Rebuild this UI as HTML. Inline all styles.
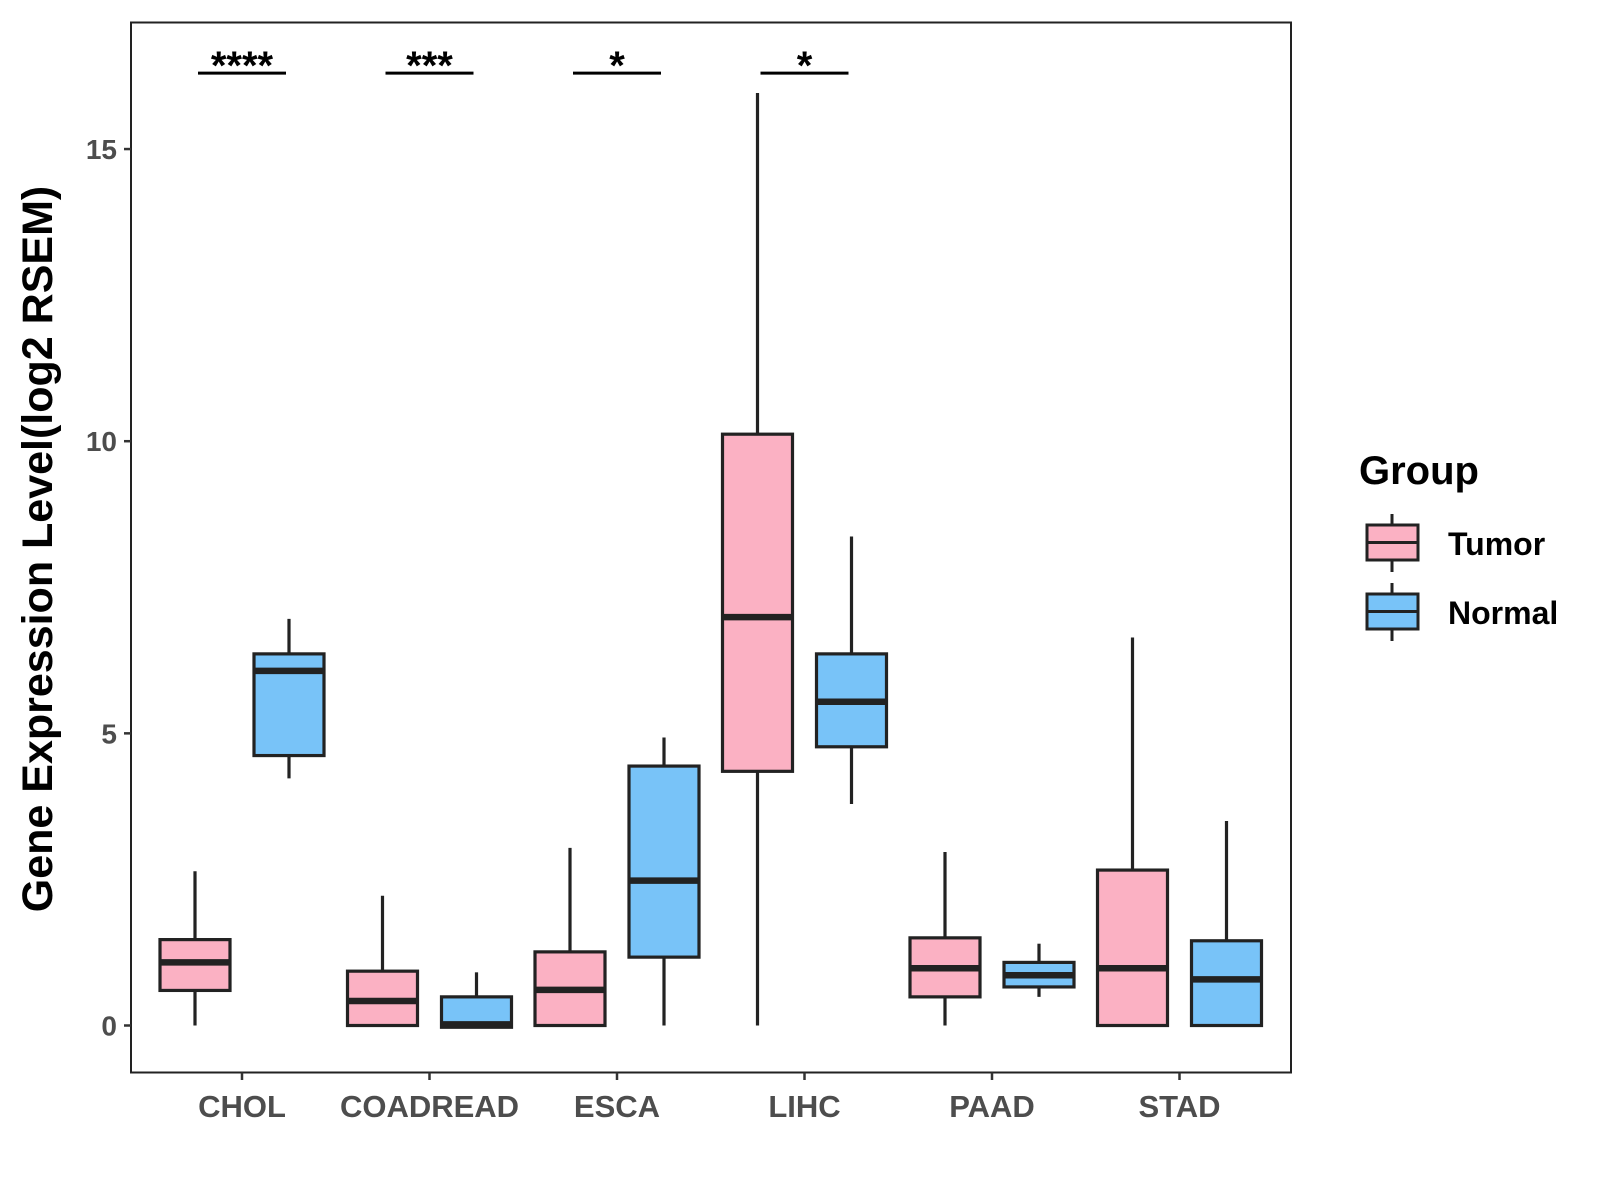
<!DOCTYPE html>
<html><head><meta charset="utf-8"><style>body{margin:0;background:#fff}svg{display:block;font-family:"Liberation Sans",sans-serif}</style></head>
<body>
<svg id="chart" width="1600" height="1200" viewBox="0 0 1600 1200" xmlns="http://www.w3.org/2000/svg">
<rect x="131" y="22.5" width="1160" height="1050" fill="#fff" stroke="#222" stroke-width="2"/>
<g id="marks"></g>
<text x="0" y="0" transform="translate(52,549) rotate(-90)" text-anchor="middle" font-size="43" font-weight="bold" fill="#000">Gene Expression Level(log2 RSEM)</text>
<g>
<text x="1359" y="484" font-size="40" font-weight="bold" fill="#000">Group</text>
<g>
<line x1="1392" y1="514" x2="1392" y2="572" stroke="#222" stroke-width="3"/>
<rect x="1367" y="525" width="51" height="35" fill="#FBB1C3" stroke="#222" stroke-width="3"/>
<line x1="1367" y1="542.5" x2="1418" y2="542.5" stroke="#222" stroke-width="3"/>
<text x="1448" y="555" font-size="32" font-weight="bold" fill="#000">Tumor</text></g>
<g>
<line x1="1392" y1="583" x2="1392" y2="641" stroke="#222" stroke-width="3"/>
<rect x="1367" y="594" width="51" height="35" fill="#78C3F8" stroke="#222" stroke-width="3"/>
<line x1="1367" y1="611.5" x2="1418" y2="611.5" stroke="#222" stroke-width="3"/>
<text x="1448" y="624" font-size="32" font-weight="bold" fill="#000">Normal</text></g>
</g>
</svg>
<script>
const categories = ["CHOL","COADREAD","ESCA","LIHC","PAAD","STAD"];
// [low, q1, median, q3, high]
const tumorStats = [[0,0.6,1.08,1.47,2.64],[0,0,0.42,0.93,2.22],[0,0,0.61,1.26,3.04],[0,4.35,6.99,10.12,15.96],[0,0.49,0.98,1.5,2.97],[0,0,0.98,2.66,6.64]];
const normalStats = [[4.23,4.62,6.07,6.36,6.96],[-0.03,-0.03,0.02,0.49,0.91],[0,1.17,2.48,4.44,4.93],[3.79,4.77,5.54,6.36,8.37],[0.49,0.66,0.86,1.08,1.4],[0,0,0.79,1.45,3.5]];
const yTicks = [0,5,10,15];
const sigLabels = ["****","***","*","*","",""];
const sigLevel = 16.3;

const NS="http://www.w3.org/2000/svg";
const g=document.getElementById('marks');
const y=v=>1025.5-v*58.43;
const x=i=>242+i*187.5;
function mk(t,a,p){const e=document.createElementNS(NS,t);for(const k in a)e.setAttribute(k,a[k]);(p||g).appendChild(e);return e;}
yTicks.forEach(v=>{
  const t=mk('line',{x1:124,x2:131,y1:y(v),y2:y(v),stroke:'#333','stroke-width':2.5});
  
  
  const l=mk('text',{x:117,y:y(v)+10,'text-anchor':'end','font-size':28,'font-weight':'bold',fill:'#4d4d4d'});
  l.textContent=v;
  
  
});
categories.forEach((c,i)=>{
  const t=mk('line',{x1:x(i),x2:x(i),y1:1072.5,y2:1080,stroke:'#333','stroke-width':2.5});
  
  
  const l=mk('text',{x:x(i),y:1117,'text-anchor':'middle','font-size':31,'font-weight':'bold',fill:'#4d4d4d'});
  l.textContent=c;
  
  
  [[tumorStats[i],-47,'#FBB1C3','tumor'],[normalStats[i],47,'#78C3F8','normal']].forEach(([s,off,col,nm])=>{
    const cx=x(i)+off;
    const b=mk('g',{});
    
    
    mk('line',{x1:cx,x2:cx,y1:y(s[0]),y2:y(s[4]),stroke:'#222','stroke-width':3.2},b);
    mk('rect',{x:cx-35,y:y(s[3]),width:70,height:Math.max(1,y(s[1])-y(s[3])),fill:col,stroke:'#222','stroke-width':3.2},b);
    mk('line',{x1:cx-35,x2:cx+35,y1:y(s[2]),y2:y(s[2]),stroke:'#222','stroke-width':6.5},b);
  });
  if(sigLabels[i]){
    const s=mk('line',{x1:x(i)-44,x2:x(i)+44,y1:y(sigLevel),y2:y(sigLevel),stroke:'#000','stroke-width':3});
    
    
    const tl=mk('text',{x:x(i),y:y(sigLevel)+6,'text-anchor':'middle','font-size':40,'font-weight':'bold',fill:'#000'});
    tl.textContent=sigLabels[i];
    
    
  }
});
</script>
</body></html>
